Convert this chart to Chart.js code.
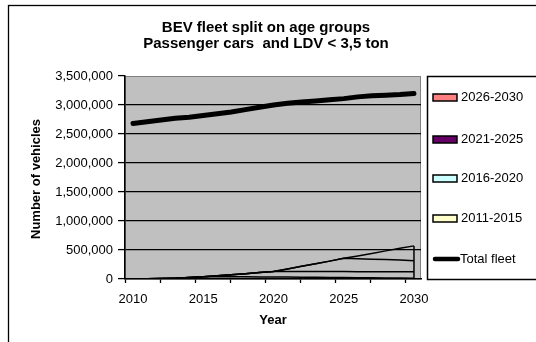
<!DOCTYPE html>
<html><head><meta charset="utf-8">
<script src="https://cdn.jsdelivr.net/npm/chart.js@4/dist/chart.umd.min.js"></script>
<style>html,body{margin:0;padding:0;background:#fff}#c{display:block}</style>
</head><body>
<canvas id="c" width="536" height="342"></canvas>
<script>
const years = [2010,2011,2012,2013,2014,2015,2016,2017,2018,2019,2020,2021,2022,2023,2024,2025,2026,2027,2028,2029,2030];
const age2011_2015 = [0,3000,8000,15000,25000,40000,39000,38000,37000,36000,35000,33000,31000,29000,27000,25000,23000,21000,19000,17000,15000];
const age2016_2020 = [0,0,0,0,0,0,16000,34000,53000,74000,95000,96000,98000,99000,101000,103000,104000,106000,108000,109000,111000];
const age2021_2025 = [0,0,0,0,0,0,0,0,0,0,0,45000,90000,135000,180000,228000,222000,215000,208000,200000,190000];
const age2026_2030 = [0,0,0,0,0,0,0,0,0,0,0,0,0,0,0,0,48000,98000,150000,205000,255000];
const totalFleet = [2680000,2710000,2740000,2770000,2790000,2820000,2850000,2880000,2920000,2960000,3000000,3030000,3050000,3070000,3090000,3110000,3140000,3160000,3170000,3180000,3200000];
const xLabels = ['2010','2015','2020','2025','2030'];
const yTicks = [0,500000,1000000,1500000,2000000,2500000,3000000,3500000];
const seriesNames = ['2011-2015','2016-2020','2021-2025','2026-2030','Total fleet'];
const seriesColors = ['#FFFFCC','#CCFFFF','#660066','#FF8080','#000000'];

const pts = arr => arr.map((v,i)=>({x:years[i], y:v}));
const FONT = '"Liberation Sans", Arial, sans-serif';
const X_MIN = 2009.43, X_MAX = 2030.5;

const ageSets = [age2011_2015, age2016_2020, age2021_2025, age2026_2030].map((arr,i)=>({
  label: seriesNames[i], data: pts(arr), stack: 'age',
  borderColor:'#000', borderWidth:1.5, pointRadius:0, fill:false, tension:0
}));

const decor = {
  id:'decor',
  beforeDraw(chart){
    const c = chart.ctx, a = chart.chartArea;
    c.save();
    c.fillStyle='#fff'; c.fillRect(0,0,chart.width,chart.height);
    c.strokeStyle='#000'; c.lineWidth=1.3;
    c.strokeRect(8.5,5.5,chart.width+20,chart.height+20);
    c.fillStyle='#C0C0C0'; c.fillRect(a.left,a.top,a.right-a.left,a.bottom-a.top);
    c.strokeStyle='#808080'; c.lineWidth=1;
    c.strokeRect(a.left+0.5,a.top+0.5,a.right-a.left-1,a.bottom-a.top-1);
    // title
    c.fillStyle='#000'; c.font='bold 15px '+FONT; c.textAlign='center'; c.textBaseline='middle';
    c.fillText('BEV fleet split on age groups', 266, 28);
    c.fillText('Passenger cars  and LDV < 3,5 ton', 266, 44);
    // axis titles
    c.font='bold 13px '+FONT;
    c.fillText('Year', 273, 320);
    c.save(); c.translate(36,179); c.rotate(-Math.PI/2); c.fillText('Number of vehicles',0,0); c.restore();
    c.restore();
  },
  afterDatasetsDraw(chart){
    const c = chart.ctx, xs = chart.scales.x, ys = chart.scales.y;
    const last = years.length-1;
    const top = age2011_2015[last]+age2016_2020[last]+age2021_2025[last]+age2026_2030[last];
    c.save();
    c.strokeStyle='#000'; c.lineWidth=1.5;
    const x = xs.getPixelForValue(years[last]);
    c.beginPath(); c.moveTo(x, ys.getPixelForValue(0)); c.lineTo(x, ys.getPixelForValue(top)); c.stroke();
    // legend
    const L=427, T=76, B=279;
    c.strokeStyle='#000'; c.lineWidth=1.5;
    c.strokeRect(L+0.5,T+0.5,200,B-T);
    const ys2 = [218,178,139,97];
    c.font='13px '+FONT; c.textAlign='left'; c.textBaseline='middle';
    for(let i=0;i<4;i++){
      c.fillStyle=seriesColors[i];
      c.fillRect(433,ys2[i]-3,24,7);
      c.lineWidth=1.5; c.strokeStyle='#000';
      c.strokeRect(433,ys2[i]-3,24,7);
      c.fillStyle='#000';
      c.fillText(seriesNames[i],461,ys2[i]);
    }
    c.lineCap='round'; c.lineWidth=4.5;
    c.beginPath(); c.moveTo(435,259); c.lineTo(458,259); c.stroke();
    c.fillText('Total fleet',460,259);
    c.restore();
  }
};

new Chart(document.getElementById('c'), {
  type:'line',
  data:{ datasets:[...ageSets, {
    label: seriesNames[4], data: pts(totalFleet), stack:'total',
    borderColor:'#000', borderWidth:5, borderCapStyle:'round', pointRadius:0, fill:false, tension:0
  }]},
  options:{
    responsive:false, animation:false, devicePixelRatio:1,
    layout:{padding:{top:76, right:115, left:0, bottom:0}},
    plugins:{legend:{display:false}, title:{display:false}, tooltip:{enabled:false}},
    scales:{
      x:{ type:'linear', min:X_MIN, max:X_MAX,
        afterBuildTicks(s){ s.ticks = [0,1,2,3,4,5,6,7,8].map(i=>({value:X_MIN+2.5*i})); },
        afterFit(s){ s.height = 342-279; },
        ticks:{ autoSkip:false, maxRotation:0, labelOffset:8, padding:9, color:'#000',
          font:{family:FONT,size:13},
          callback:(v,i)=> i%2===0 ? xLabels[i/2] : '' },
        grid:{ drawOnChartArea:false, drawTicks:true, tickLength:4, tickColor:'#000', tickWidth:1.3 },
        border:{ display:true, color:'#000', width:1.5 }
      },
      y:{ stacked:true, min:0, max:3500000,
        afterBuildTicks(s){ s.ticks = yTicks.map(v=>({value:v})); },
        afterFit(s){ s.width = 125; },
        ticks:{ color:'#000', padding:5, font:{family:FONT,size:13},
          callback:v=> v.toLocaleString('en-US') },
        grid:{ color:ctx=> (ctx.tick && ctx.tick.value===3500000) ? 'rgba(0,0,0,0)' : '#000',
          lineWidth:1.2, drawTicks:true, tickLength:7, tickColor:'#000', tickWidth:1.3 },
        border:{ display:true, color:'#000', width:1.5 }
      }
    }
  },
  plugins:[decor]
});
</script>
</body></html>
